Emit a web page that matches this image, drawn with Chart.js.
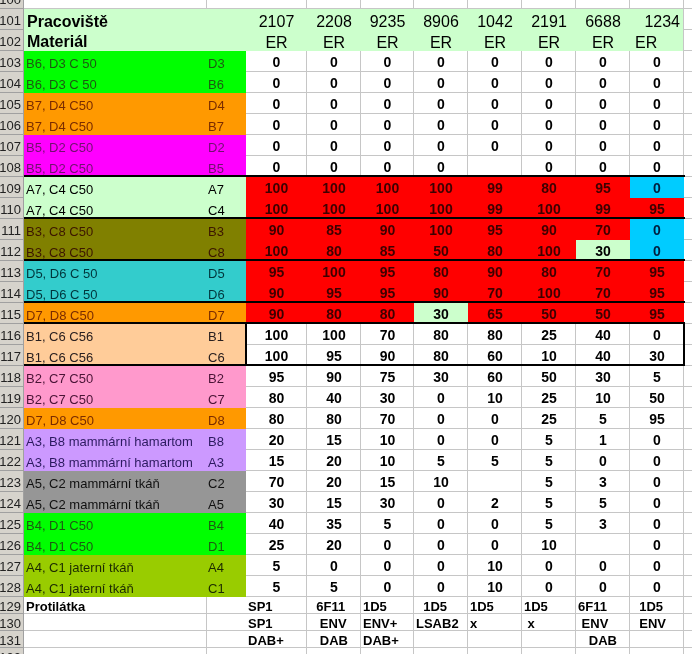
<!DOCTYPE html>
<html>
<head>
<meta charset="utf-8">
<script src="https://cdn.jsdelivr.net/npm/chart.js@4"></script>
<style>
  html, body { margin: 0; padding: 0; background: #fff; }
  canvas { display: block; }
</style>
</head>
<body>
<canvas id="sheet" width="692" height="654"></canvas>
<script>
// Hlavička tabulky
const pracoviste = ['2107', '2208', '9235', '8906', '1042', '2191', '6688', '1234'];
const material = ['ER', 'ER', 'ER', 'ER', 'ER', 'ER', 'ER', 'ER'];

// Vzorky (sloupec A) a kódy (sloupec B), řádky 103-128
const vzorky = [
  'B6, D3 C 50', 'B6, D3 C 50', 'B7, D4 C50', 'B7, D4 C50', 'B5, D2 C50', 'B5, D2 C50',
  'A7, C4 C50', 'A7, C4 C50', 'B3, C8 C50', 'B3, C8 C50', 'D5, D6 C 50', 'D5, D6 C 50',
  'D7, D8 C50', 'B1, C6 C56', 'B1, C6 C56', 'B2, C7 C50', 'B2, C7 C50', 'D7, D8 C50',
  'A3, B8 mammární hamartom', 'A3, B8 mammární hamartom', 'A5, C2 mammární tkáň', 'A5, C2 mammární tkáň',
  'B4, D1 C50', 'B4, D1 C50', 'A4, C1 jaterní tkáň', 'A4, C1 jaterní tkáň'
];
const kody = ['D3', 'B6', 'D4', 'B7', 'D2', 'B5', 'A7', 'C4', 'B3', 'C8', 'D5', 'D6', 'D7',
  'B1', 'C6', 'B2', 'C7', 'D8', 'B8', 'A3', 'C2', 'A5', 'B4', 'D1', 'A4', 'C1'];

// Hodnoty po pracovištích (null = prázdná buňka)
const v2107 = [0, 0, 0, 0, 0, 0, 100, 100, 90, 100, 95, 90, 90, 100, 100, 95, 80, 80, 20, 15, 70, 30, 40, 25, 5, 5];
const v2208 = [0, 0, 0, 0, 0, 0, 100, 100, 85, 80, 100, 95, 80, 100, 95, 90, 40, 80, 15, 20, 20, 15, 35, 20, 0, 5];
const v9235 = [0, 0, 0, 0, 0, 0, 100, 100, 90, 85, 95, 95, 80, 70, 90, 75, 30, 70, 10, 10, 15, 30, 5, 0, 0, 0];
const v8906 = [0, 0, 0, 0, 0, 0, 100, 100, 100, 50, 80, 90, 30, 80, 80, 30, 0, 0, 0, 5, 10, 0, 0, 0, 0, 0];
const v1042 = [0, 0, 0, 0, 0, null, 99, 99, 95, 80, 90, 70, 65, 80, 60, 60, 10, 0, 0, 5, null, 2, 0, 0, 10, 10];
const v2191 = [0, 0, 0, 0, 0, 0, 80, 100, 90, 100, 80, 100, 50, 25, 10, 50, 25, 25, 5, 5, 5, 5, 5, 10, 0, 0];
const v6688 = [0, 0, 0, 0, 0, 0, 95, 99, 70, 30, 70, 70, 50, 40, 40, 30, 10, 5, 1, 0, 3, 5, 3, null, 0, 0];
const v1234 = [0, 0, 0, 0, 0, 0, 0, 95, 0, 0, 95, 95, 95, 0, 30, 5, 50, 95, 0, 0, 0, 0, 0, 0, 0, 0];
const hodnoty = [v2107, v2208, v9235, v8906, v1042, v2191, v6688, v1234];

// Protilátka (řádky 129-131)
const protilatka1 = ['SP1', '  6F11', '1D5', '  1D5', '1D5', '1D5', '6F11', '  1D5'];
const protilatka2 = ['SP1', '   ENV', 'ENV+', 'LSAB2', 'x', ' x', ' ENV', '  ENV'];
const protilatka3 = ['DAB+', '   DAB', 'DAB+', '', '', '', '   DAB', ''];

// ---- rozložení a styly ----
const W = 692, H = 654;
const HEAD_X = 24, COLB_X = 207, DATA_X = 246;
const dataEdges = [246, 307, 361, 414, 468, 522, 576, 630, 684];
const gridX = [24, 207, 307, 361, 414, 468, 522, 576, 630, 684];
const ROW_H = 21, LOW_H = 17;

function rowTop(r) {            // r = číslo řádku v listu
  if (r <= 129) return 9 + (r - 101) * ROW_H;
  return 597 + (r - 129) * LOW_H;
}
function rowH(r) { return r < 129 ? ROW_H : LOW_H; }

const GREEN = '#00ff00', ORANGE = '#ff9900', MAGENTA = '#ff00ff', PALE = '#ccffcc', OLIVE = '#808000',
  TEAL = '#33cccc', PEACH = '#ffcc99', PINK = '#ff99cc', LAVENDER = '#cc99ff', GREY = '#969696',
  LIME = '#99cc00', RED = '#ff0000', SKY = '#00ccff';

const rowFill = [GREEN, GREEN, ORANGE, ORANGE, MAGENTA, MAGENTA, PALE, PALE, OLIVE, OLIVE, TEAL, TEAL,
  ORANGE, PEACH, PEACH, PINK, PINK, ORANGE, LAVENDER, LAVENDER, GREY, GREY, GREEN, GREEN, LIME, LIME];
const inkFor = {};
inkFor[GREEN] = '#1d5a12'; inkFor[ORANGE] = '#7a2c00'; inkFor[MAGENTA] = '#70106e'; inkFor[PALE] = '#000';
inkFor[OLIVE] = '#3c1600'; inkFor[TEAL] = '#00363c'; inkFor[PEACH] = '#2a2020'; inkFor[PINK] = '#4a1436';
inkFor[LAVENDER] = '#2c1a60'; inkFor[GREY] = '#111'; inkFor[LIME] = '#1c2a00'; inkFor[RED] = '#3d0000';
inkFor[SKY] = '#001f3f';

// barvy datových buněk: červený blok řádků 109-115 a výjimky
function cellFill(i, c) {
  if (i === 6 && c === 7) return SKY;
  if ((i === 8 || i === 9) && c === 7) return SKY;
  if (i === 9 && c === 6) return PALE;
  if (i === 12 && c === 3) return PALE;
  if (i >= 6 && i <= 12) return RED;
  return null;
}

const FONT = '"Liberation Sans", Arial, sans-serif';
const GRIDCOL = '#c6c6c6';

// ---- výplně buněk jako plovoucí pruhy ----
const bars = [], barColors = [];
function addBar(x0, x1, r, color) {
  bars.push({ x: [x0, x1], y: rowTop(r) + rowH(r) / 2 });
  barColors.push(color);
}
addBar(HEAD_X, 683, 101, PALE);
addBar(HEAD_X, 683, 102, PALE);
vzorky.forEach((_, i) => {
  addBar(HEAD_X, DATA_X, 103 + i, rowFill[i]);
  for (let c = 0; c < pracoviste.length; c++) {
    const f = cellFill(i, c);
    if (f) addBar(dataEdges[c], dataEdges[c + 1], 103 + i, f);
  }
});

const sheetPlugin = {
  id: 'sheet',
  beforeDatasetsDraw(chart) {
    const { ctx, scales: { x, y } } = chart;
    ctx.save();
    ctx.fillStyle = '#fff';
    ctx.fillRect(0, 0, chart.width, chart.height);
    ctx.strokeStyle = GRIDCOL;
    ctx.lineWidth = 1;
    ctx.beginPath();
    gridX.forEach(v => {
      const px = Math.round(x.getPixelForValue(v)) - 0.5;
      ctx.moveTo(px, y.getPixelForValue(0));
      ctx.lineTo(px, y.getPixelForValue(H));
    });
    for (let r = 100; r <= 131; r++) {
      const py = Math.round(y.getPixelForValue(rowTop(r) + rowH(r))) - 0.5;
      ctx.moveTo(x.getPixelForValue(HEAD_X), py);
      ctx.lineTo(x.getPixelForValue(W), py);
    }
    ctx.stroke();
    ctx.restore();
  },
  afterDatasetsDraw(chart) {
    const { ctx, scales: { x, y } } = chart;
    const X = v => x.getPixelForValue(v);
    const Y = v => y.getPixelForValue(v);
    ctx.save();

    // záhlaví řádků
    ctx.fillStyle = '#d6d3cc';
    ctx.fillRect(X(0), Y(0), X(HEAD_X) - X(0), Y(H) - Y(0));
    ctx.strokeStyle = '#a0a0a0';
    ctx.lineWidth = 1;
    ctx.beginPath();
    ctx.moveTo(X(HEAD_X) - 0.5, Y(0)); ctx.lineTo(X(HEAD_X) - 0.5, Y(H));
    for (let r = 100; r <= 131; r++) {
      const py = Math.round(Y(rowTop(r) + rowH(r))) - 0.5;
      ctx.moveTo(X(0), py); ctx.lineTo(X(HEAD_X), py);
    }
    ctx.stroke();
    ctx.font = '13px ' + FONT;
    ctx.fillStyle = '#222';
    ctx.textAlign = 'right';
    ctx.textBaseline = 'alphabetic';
    for (let r = 100; r <= 132; r++) {
      const off = r < 129 ? 16 : 14;
      ctx.fillText(String(r), X(21), Y(r === 100 ? -12 + off : rowTop(r) + off));
    }

    // silné ohraničení skupin
    ctx.strokeStyle = '#000';
    ctx.lineWidth = 2;
    ctx.beginPath();
    [109, 111, 113, 115, 116, 118].forEach(r => {
      const py = Y(rowTop(r)) - 1;
      ctx.moveTo(X(HEAD_X), py); ctx.lineTo(X(684) + 1, py);
    });
    ctx.moveTo(X(684), Y(rowTop(116)) - 2); ctx.lineTo(X(684), Y(rowTop(118)));
    ctx.moveTo(X(DATA_X), Y(rowTop(116))); ctx.lineTo(X(DATA_X), Y(rowTop(118)));
    ctx.stroke();

    // hlavička
    ctx.fillStyle = '#000';
    ctx.textAlign = 'left';
    ctx.font = 'bold 16px ' + FONT;
    ctx.fillText('Pracoviště', X(27), Y(rowTop(101) + 17.5));
    ctx.fillText('Materiál', X(27), Y(rowTop(102) + 16.5));
    ctx.font = '16px ' + FONT;
    pracoviste.forEach((t, c) => {
      const last = c === pracoviste.length - 1;
      ctx.textAlign = last ? 'right' : 'center';
      const px = last ? X(dataEdges[c + 1]) - 4 : (X(dataEdges[c]) + X(dataEdges[c + 1])) / 2;
      ctx.fillText(t, px, Y(rowTop(101) + 17.5));
    });
    material.forEach((t, c) => {
      const last = c === material.length - 1;
      ctx.textAlign = last ? 'left' : 'center';
      const px = last ? X(dataEdges[c]) + 5 : (X(dataEdges[c]) + X(dataEdges[c + 1])) / 2;
      ctx.fillText(t, px, Y(rowTop(102) + 18));
    });

    // vzorky a hodnoty
    vzorky.forEach((name, i) => {
      const r = 103 + i;
      ctx.font = '13px ' + FONT;
      ctx.textAlign = 'left';
      ctx.fillStyle = inkFor[rowFill[i]];
      ctx.fillText(name, X(26), Y(rowTop(r) + 17));
      ctx.fillText(kody[i], X(COLB_X + 1), Y(rowTop(r) + 17));
      ctx.font = 'bold 14px ' + FONT;
      ctx.textAlign = 'center';
      hodnoty.forEach((col, c) => {
        const v = col[i];
        if (v === null) return;
        const f = cellFill(i, c);
        ctx.fillStyle = f ? inkFor[f] : '#000';
        ctx.fillText(String(v), (X(dataEdges[c]) + X(dataEdges[c + 1])) / 2, Y(rowTop(r) + 16));
      });
    });

    // protilátka
    ctx.fillStyle = '#000';
    ctx.textAlign = 'left';
    ctx.font = 'bold 13px ' + FONT;
    ctx.fillText('Protilátka', X(26), Y(rowTop(129) + 14));
    [protilatka1, protilatka2, protilatka3].forEach((row, k) => {
      row.forEach((t, c) => {
        if (!t) return;
        ctx.fillText(t, X(dataEdges[c]) + 2, Y(rowTop(129 + k) + 14));
      });
    });
    ctx.restore();
  }
};

new Chart(document.getElementById('sheet'), {
  type: 'bar',
  data: {
    datasets: [{
      data: bars,
      backgroundColor: barColors,
      borderWidth: 0,
      barThickness: ROW_H,
      inflateAmount: 0
    }]
  },
  options: {
    indexAxis: 'y',
    responsive: false,
    animation: false,
    events: [],
    layout: { padding: 0 },
    plugins: { legend: { display: false }, tooltip: { enabled: false } },
    scales: {
      x: { type: 'linear', min: 0, max: W, display: false, offset: false },
      y: { type: 'linear', min: 0, max: H, reverse: true, display: false, offset: false }
    }
  },
  plugins: [sheetPlugin]
});
</script>
</body>
</html>
